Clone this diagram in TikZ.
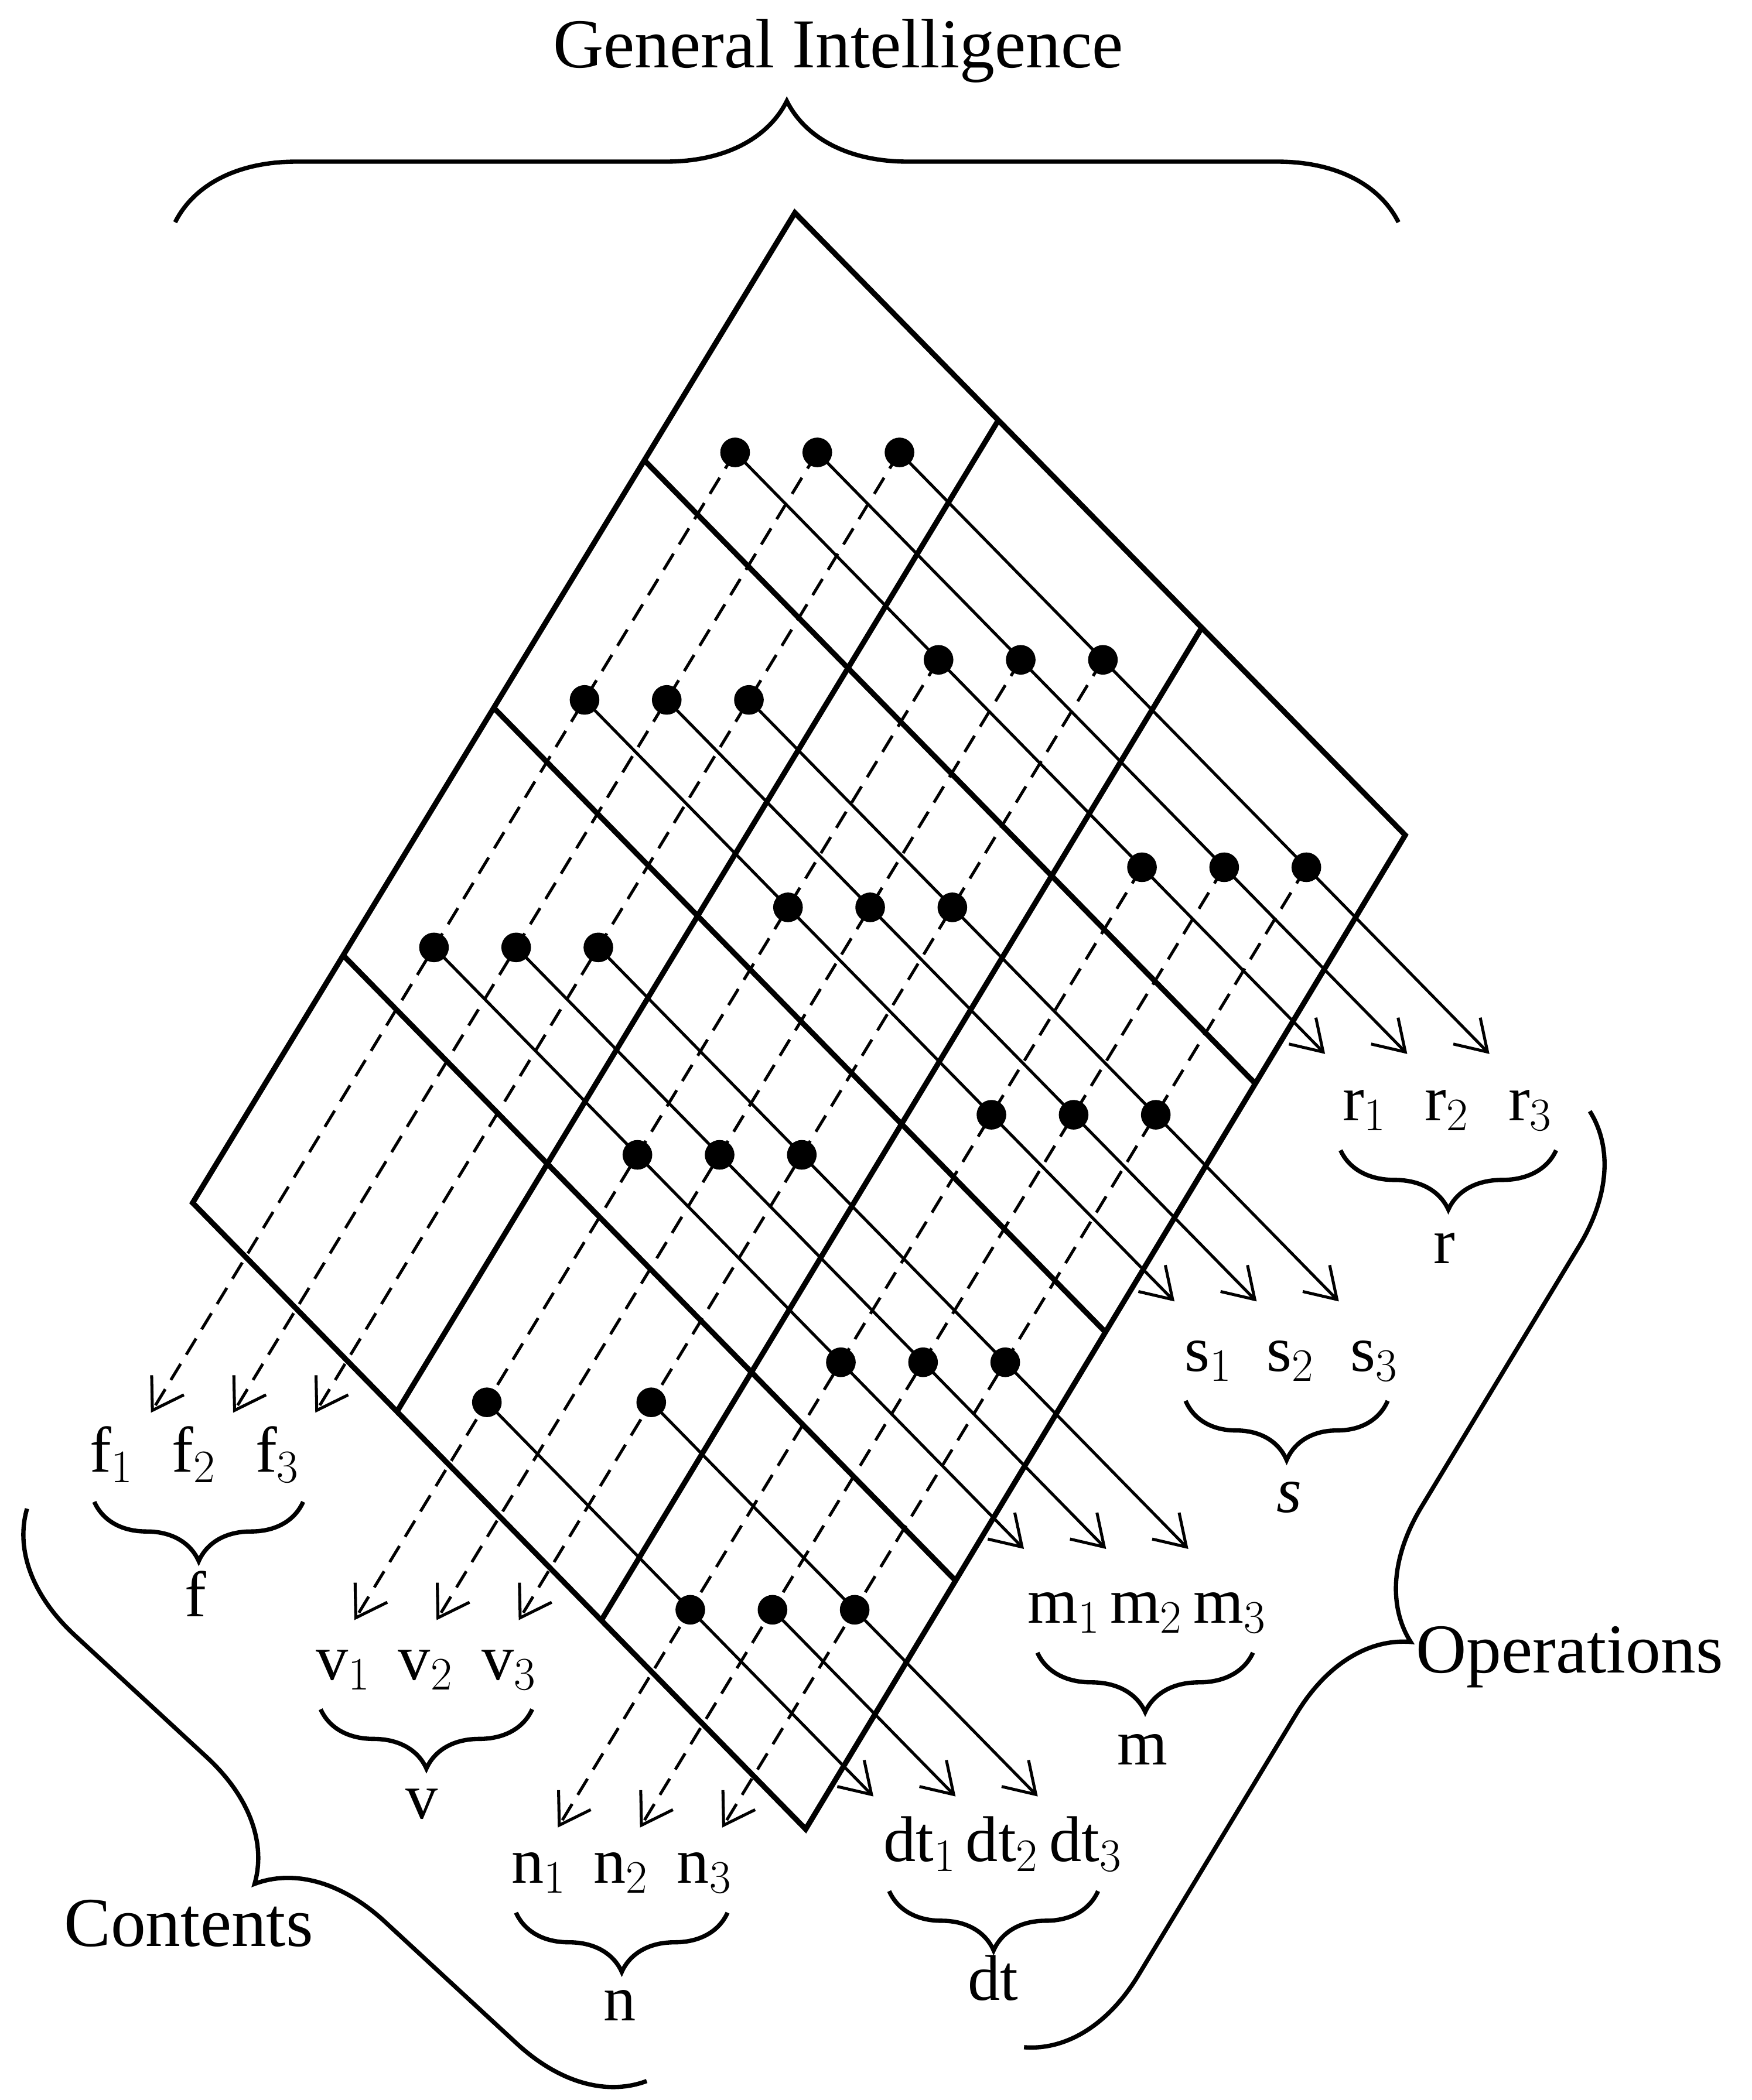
\documentclass[tikz,border=0pt]{standalone}
\usepackage{fontspec}
\setmainfont{Liberation Serif}
\usetikzlibrary{calc,arrows.meta,decorations.pathreplacing}
\begin{document}
\begin{tikzpicture}[x=0.5pt,y=-0.5pt,
  grid/.style={line width=2pt,line join=miter},
  sol/.style={line width=1.1pt,-{Straight Barb[length=11pt,width=14pt,line width=1.1pt]}},
  dsh/.style={sol,dash pattern=on 7pt off 4pt},
  dot/.style={circle,fill=black,inner sep=0pt,minimum size=11pt},
  lab/.style={font=\fontsize{24}{28}\selectfont,inner sep=0pt,anchor=base},
  big/.style={font=\fontsize{26}{30}\selectfont,inner sep=0pt,anchor=base},
  br/.style={decorate,line width=1.6pt,decoration={brace,amplitude=#1}}]
\useasboundingbox (0,0) rectangle (1300,1559.1);
\coordinate (O) at (590,158);
\coordinate (T) at (590,158);
\coordinate (R) at (1043,620);
\coordinate (B) at (598,1358);
\coordinate (L) at (143,893);
% grid
\draw[grid] (T)--(R)--(B)--(L)--cycle;
\foreach \i in {1,2,3}{
  \draw[grid] ($(T)!\i/4!(L)$) -- ($(R)!\i/4!(B)$);}
\foreach \j in {1,2}{
  \draw[grid] ($(T)!\j/3!(R)$) -- ($(L)!\j/3!(B)$);}
% dot coordinates
\foreach \i in {0,1,2,3}{\foreach \j in {0,1,2}{\foreach \k in {0,1,2}{
  \pgfmathsetmacro\px{590+(\i+0.5)*(-111.75)+(\j+0.5)*151-3+61*\k-61}
  \pgfmathsetmacro\py{158+(\i+0.5)*183.75+(\j+0.5)*154+9}
  \coordinate (d\i\j\k) at (\px,\py);}}}
% dashed arrows (columns)
\foreach \j in {0,1,2}{\foreach \k in {0,1,2}{
  \draw[dsh] (d0\j\k) -- ($(d0\j\k)+3.88*(-111.75,183.75)$);}}
% solid arrows (rows)
\foreach \i in {0,1,2}{\foreach \k in {0,1,2}{
  \draw[sol] (d\i0\k) -- ($(d\i0\k)+2.9*(151,154)$);}}
\draw[sol] (d310) -- ($(d300)+2.9*(151,154)$);
\draw[sol] (d321) -- ($(d301)+2.9*(151,154)$);
\draw[sol] (d312) -- ($(d302)+2.9*(151,154)$);
% dots
\foreach \i in {0,1,2}{\foreach \j in {0,1,2}{\foreach \k in {0,1,2}{
  \node[dot] at (d\i\j\k) {};}}}
\foreach \n in {310,312,320,321,322}{\node[dot] at (d\n) {};}
% small labels
\foreach \nm/\x/\y/\bx/\bw in {r/1013/832/995/160, s/897/1018/880/150, m/790/1205/770/160, dt/683/1382/660/155, f/83/1093/70/155, v/255/1247/238/157, n/400/1398/383/157}{
  \foreach \k/\dx in {1/0,2/61,3/123}{
    \node[lab] (l\nm\k) at (\x+\dx,\y) {\nm$_{\k}$};}
  \draw[br=22pt] (\bx+\bw,\y+22) -- (\bx,\y+22);
}
\node[lab] (lr) at (1072,938) {r};
\node[lab] (ls) at (957,1123) {\itshape s};
\node[lab] (lm) at (848,1310) {m};
\node[lab] (ldt) at (737,1485) {dt};
\node[lab] (lf) at (145,1200) {f};
\node[lab] (lv) at (313,1350) {v};
\node[lab] (ln) at (460,1500) {n};
% big braces
\draw[br=45pt] (130,165) -- (1038,165);
\node[big] (gi) at (622,50) {General Intelligence};
\draw[br=45pt] (480,1545) -- (20,1120);
\node[big] (ct) at (140,1445) {Contents};
\draw[br=45pt] (1180,825) -- (760,1520);
\node[big] (op) at (1165,1242) {Operations};
\end{tikzpicture}
\end{document}
